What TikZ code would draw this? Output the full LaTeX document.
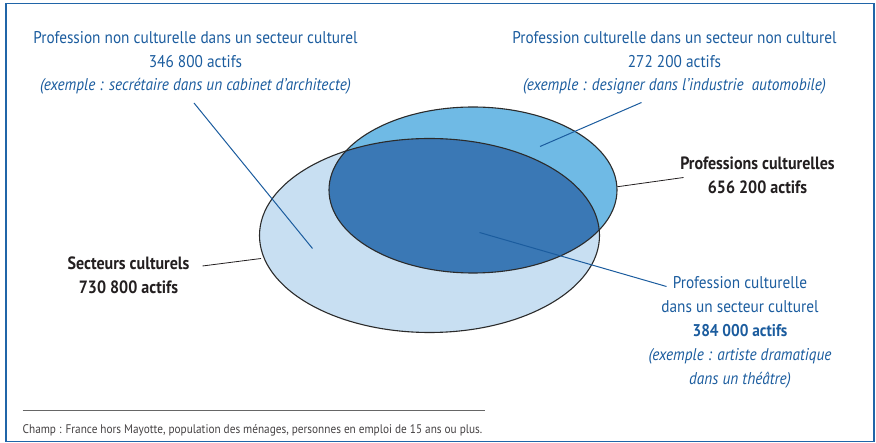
\documentclass[tikz,border=0pt]{standalone}
\usepackage{fontspec}
\setmainfont{PT Sans}[FakeStretch=0.9]
\definecolor{frameblue}{HTML}{2065A8}
\definecolor{textblue}{HTML}{1B5C9E}
\definecolor{lightfill}{HTML}{C8DFF2}
\definecolor{midfill}{HTML}{6FBAE5}
\definecolor{darkfill}{HTML}{3A78B5}
\definecolor{darktext}{HTML}{231F20}
\definecolor{outline}{HTML}{2B2B2B}
\begin{document}
\begin{tikzpicture}[x=1pt,y=-1pt,
  bluelabel/.style={text=textblue,align=center,font=\fontsize{17}{23.5}\selectfont,inner sep=0pt},
  blacklabel/.style={text=darktext,align=center,font=\fontsize{17.8}{24.5}\selectfont\bfseries,inner sep=0pt},
  blueleader/.style={draw=textblue,line width=1pt},
  blackleader/.style={draw=darktext,line width=0.8pt},
  ellline/.style={draw=outline,line width=1.1pt}]
\useasboundingbox (0,0) rectangle (876,443);
\draw[frameblue,line width=1.6pt] (6,3.5) rectangle (874,441.5);
% ellipses
\fill[lightfill] (429.5,235.5) ellipse [x radius=170,y radius=97];
\fill[midfill] (473,190) ellipse [x radius=144,y radius=83];
\begin{scope}
\clip (473,190) ellipse [x radius=144,y radius=83];
\fill[darkfill] (429.5,235.5) ellipse [x radius=170,y radius=97];
\end{scope}
\draw[ellline] (429.5,235.5) ellipse [x radius=170,y radius=97];
\draw[ellline] (473,190) ellipse [x radius=144,y radius=83];
% labels (anchor base = baseline of last line)
\node[bluelabel,anchor=base] (l1) at (195.5,91) {Profession non culturelle dans un secteur culturel\\346 800 actifs\\\itshape (exemple : secrétaire dans un cabinet d’architecte)};
\node[bluelabel,anchor=base] (l2) at (674.5,91) {Profession culturelle dans un secteur non culturel\\272 200 actifs\\\itshape (exemple : designer dans l’industrie\ \ automobile)};
\node[blacklabel,anchor=base] (l3) at (757.5,194) {Professions culturelles\\656 200 actifs};
\node[blacklabel,anchor=base] (l4) at (128.5,294) {Secteurs culturels\\730 800 actifs};
\node[bluelabel,anchor=base,font=\fontsize{17}{24.2}\selectfont] (l5) at (740,385) {Profession culturelle\\dans un secteur culturel\\\textbf{384 000 actifs}\\\itshape (exemple : artiste dramatique\\\itshape dans un théâtre)};
% leader end points
\coordinate (s1) at (194,103);
\coordinate (e1) at (312.5,248.5);
\coordinate (s2) at (641.5,102.5);
\coordinate (e2) at (540,146.5);
\coordinate (s3) at (683.5,177.5);
\coordinate (e3) at (617,186.8);
\coordinate (s4) at (202.5,266);
\coordinate (e4) at (261,258.5);
\coordinate (s5) at (666.5,286.5);
\coordinate (e5) at (479.5,232.5);
\draw[blueleader] (s1) -- (e1);
\draw[blueleader] (s2) -- (e2);
\draw[blackleader] (s3) -- (e3);
\draw[blackleader] (s4) -- (e4);
\draw[blueleader] (s5) -- (e5);
% footnote
\coordinate (r1) at (22.5,410);
\coordinate (r2) at (485,410);
\draw[draw=gray!80!black,line width=0.9pt] (r1) -- (r2);
\node[anchor=base west,inner sep=0pt,text=darktext!85,font=\fontsize{12.5}{14}\selectfont] (fn) at (22.5,434) {Champ : France hors Mayotte, population des ménages, personnes en emploi de 15 ans ou plus.};
\end{tikzpicture}
\end{document}
